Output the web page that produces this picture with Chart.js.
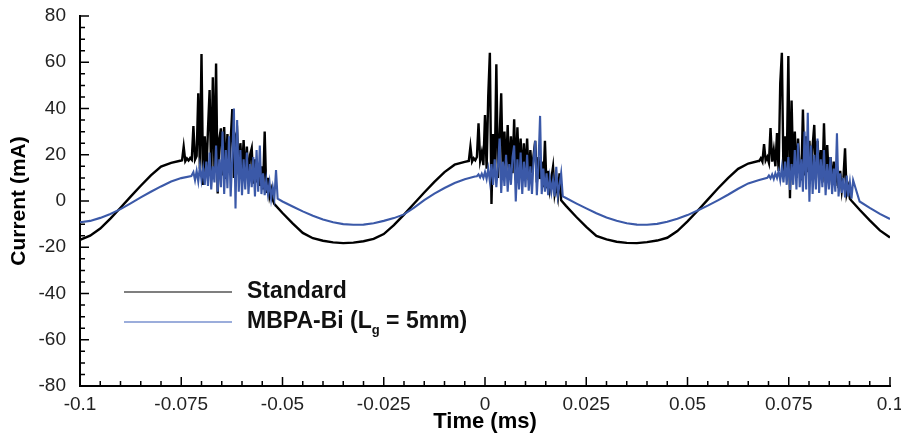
<!DOCTYPE html>
<html>
<head>
<meta charset="utf-8">
<script src="https://cdn.jsdelivr.net/npm/chart.js@4.4.1/dist/chart.umd.min.js"></script>
<style>
  html, body { margin: 0; padding: 0; background: #fff; }
  #wrap { width: 901px; height: 434px; position: relative; }
</style>
</head>
<body>
<div id="wrap"><canvas id="chart"></canvas></div>
<script>
// time axis (ms) and tick labels
const xTickValues = [-0.1, -0.075, -0.05, -0.025, 0, 0.025, 0.05, 0.075, 0.1];
const xTickLabels = ["-0.1", "-0.075", "-0.05", "-0.025", "0", "0.025", "0.05", "0.075", "0.1"];
const yTickValues = [-80, -60, -40, -20, 0, 20, 40, 60, 80];
const yTickLabels = ["-80", "-60", "-40", "-20", "0", "20", "40", "60", "80"];

// smooth part, sampled every 0.0025 ms from -0.1 ms
const baseStart = -0.1;
const baseStep = 0.0025;
const stdCurrent = [
  -16.8, -15.0, -11.9, -7.6, -2.9, 1.9, 6.6, 11.1, 14.9, 16.5,
  17.5, 18.1, 18.2, 17.9, 17.1, 15.9, 13.2, 9.0, 4.4, -0.4,
  -5.2, -9.7, -13.8, -16.1, -17.2, -17.9, -18.2, -18.0, -17.4, -16.4,
  -14.3, -10.4, -5.9, -1.1, 3.7, 8.3, 12.5, 15.7, 16.9, 17.8,
  18.2, 18.1, 17.6, 16.7, 15.4, 11.7, 7.4, 2.7, -2.1, -6.8,
  -11.2, -15.1, -16.6, -17.6, -18.1, -18.2, -17.8, -17.1, -15.9, -13.0,
  -8.8, -4.2, 0.6, 5.4, 9.9, 13.9, 16.2, 17.3, 17.9, 18.2,
  18.0, 17.4, 16.3, 14.2, 10.2, 5.7, 1.0, -3.8, -8.4, -12.7,
  -15.8
];
const mbpaCurrent = [
  -9.2, -8.6, -7.3, -5.6, -3.5, -1.0, 1.6, 4.0, 6.3, 8.4,
  9.9, 10.8, 11.1, 11.0, 10.6, 9.7, 8.3, 6.6, 4.5, 2.2,
  -0.2, -2.4, -4.5, -6.4, -8.0, -9.2, -10.0, -10.3, -10.2, -9.6,
  -8.6, -7.4, -5.8, -2.9, 0.4, 3.2, 5.6, 7.8, 9.4, 10.6,
  11.0, 11.1, 10.9, 10.3, 9.3, 7.7, 5.9, 3.7, 1.3, -1.0,
  -3.2, -5.3, -7.1, -8.5, -9.6, -10.2, -10.3, -9.9, -9.0, -7.7,
  -6.1, -4.1, -2.0, 0.3, 2.7, 5.3, 7.6, 9.0, 10.2, 10.9,
  11.1, 11.0, 10.0, 8.8, 7.1, 5.0, 2.6, -0.2, -3.0, -5.6,
  -7.8
];

// discharge bursts, sampled every 0.0004 ms
const burstStep = 0.0004;
const stdBurstStarts = [-0.0748, -0.0040, 0.0677];
const stdBurst1 = [
  17.6, 23.5, 17.2, 18.4, 17.5, 18.6, 17.8, 32.4, 17.9, 19.5,
  46.6, 14.0, 63.6, 6.9, 28.0, 12.0, 31.0, 48.0, 10.5, 53.5,
  14.0, 59.5, 3.3, 27.0, 31.4, 11.0, 32.0, 9.5, 29.0, 13.0,
  26.0, 39.8, 10.0, 28.0, 30.0, 11.5, 25.0, 12.0, 26.4, 10.0,
  23.5, 9.0, 20.0, 22.8, 7.5, 18.0, 8.0, 16.0, 6.5, 15.0,
  5.0, 30.0, 3.5, 10.0, 2.0, 5.0, 0.5, -1.3
];
const stdBurst2 = [
  17.3, 23.5, 17.0, 18.5, 17.6, 19.0, 33.6, 17.5, 21.0, 15.5,
  37.2, 14.0, 45.4, 64.1, -1.3, 29.0, 12.0, 59.1, 10.0, 27.0,
  46.6, 11.0, 30.0, 13.0, 32.9, 10.5, 28.0, 12.0, 35.3, 9.0,
  31.9, 13.0, 27.0, 10.0, 25.0, 11.5, 27.0, 9.0, 22.0, 12.0,
  20.0, 26.0, 8.0, 19.0, 9.5, 17.0, 6.0, 26.0, 5.5, 13.0,
  5.0, 10.0, 14.8, 3.0, 7.0, 2.0, 12.0, 0.3
];
const stdBurst3 = [
  17.3, 18.5, 17.0, 24.6, 17.5, 19.0, 16.5, 31.5, 17.0, 22.0,
  15.0, 29.4, 13.0, 50.9, 64.1, 11.0, 28.0, 14.0, 62.7, 1.2,
  43.4, 12.0, 30.0, 10.0, 27.0, 13.0, 9.0, 39.6, 11.0, 28.0,
  12.5, 26.0, 9.0, 24.0, 32.9, 10.0, 26.0, 12.0, 22.0, 8.0,
  33.6, 9.0, 24.2, 8.5, 19.0, 7.0, 17.0, 6.5, 15.0, 5.5,
  13.0, 4.5, 10.0, 22.8, 3.0, 6.0, 1.0, 0.1
];
const mbpaBurstStarts = [-0.0724, -0.0020, 0.0697];
const mbpaBurst1 = [
  10.8, 12.5, 9.0, 13.0, 8.5, 15.0, 9.0, 14.0, 7.0, 17.0,
  6.5, 21.0, 5.0, 15.0, 8.0, 24.0, 4.0, 18.0, 6.0, 30.0,
  3.0, 22.0, 5.5, 28.0, 2.0, 19.0, 40.0, -3.2, 35.0, 4.0,
  22.0, 2.5, 18.0, 5.0, 21.0, 3.0, 16.0, 6.0, 19.0, 2.0,
  22.0, 4.0, 24.0, 3.0, 12.0, 2.5, 9.0, 3.0, 8.0, 1.0,
  6.0, 1.5, 13.4, 1.0
];
const mbpaBurst2 = [
  10.7, 11.5, 10.2, 11.8, 10.0, 12.5, 9.5, 14.0, 8.5, 16.0,
  7.0, 18.0, 6.0, 15.0, 27.0, 3.5, 17.0, 6.5, 20.0, 4.0,
  16.0, 7.0, 19.0, 24.0, -0.2, 18.0, 5.0, 21.0, 3.0, 17.0,
  6.0, 20.0, 4.5, 15.0, 3.0, 18.0, 26.0, 2.5, 16.0, 36.8,
  3.0, 14.0, 4.0, 12.0, 2.5, 10.0, 4.0, 9.0, 2.0, 14.8,
  2.5, 7.0, 12.0, 2.0
];
const mbpaBurst3 = [
  10.0, 11.0, 9.8, 11.5, 9.5, 12.0, 10.0, 13.0, 9.0, 14.5,
  8.0, 17.0, 7.0, 19.0, 4.8, 16.0, 7.0, 22.0, 5.0, 25.0,
  6.0, 18.0, 4.0, 30.0, 5.0, 38.2, -0.3, 24.0, 3.0, 20.0,
  5.0, 27.0, 3.5, 18.0, 6.0, 22.0, 2.5, 16.0, 5.0, 19.0,
  3.0, 14.0, 4.0, 29.3, 2.0, 12.0, 3.5, 10.0, 1.5, 11.0,
  2.0, 8.0, 1.0, 9.0
];

const legendLabels = ["Standard", "MBPA-Bi (L", "g", " = 5mm)"];

const FONT = '"Liberation Sans", Arial, Helvetica, sans-serif';

function buildSeries(base, starts, bursts) {
  const pts = [];
  const ranges = bursts.map((b, j) => [starts[j], starts[j] + (b.length - 1) * burstStep]);
  base.forEach((v, i) => {
    const t = baseStart + i * baseStep;
    if (ranges.some(r => t >= r[0] - 1e-9 && t <= r[1] + 1e-9)) return;
    pts.push({ x: t, y: v });
  });
  bursts.forEach((b, j) => {
    b.forEach((v, i) => pts.push({ x: starts[j] + i * burstStep, y: v }));
  });
  pts.sort((a, b) => a.x - b.x);
  return pts;
}

const stdData = buildSeries(stdCurrent, stdBurstStarts, [stdBurst1, stdBurst2, stdBurst3]);
const mbpaData = buildSeries(mbpaCurrent, mbpaBurstStarts, [mbpaBurst1, mbpaBurst2, mbpaBurst3]);

// small inward ticks like the original plot
const minorTicks = {
  id: "minorTicks",
  afterDatasetsDraw(chart) {
    const { ctx, chartArea: a, scales: { x, y } } = chart;
    ctx.save();
    ctx.strokeStyle = "#000";
    ctx.lineWidth = 1.5;
    ctx.beginPath();
    for (let i = 0; i <= 40; i++) {
      const px = x.getPixelForValue(-0.1 + i * 0.005);
      const len = i % 5 === 0 ? 9 : 5;
      ctx.moveTo(px, a.bottom);
      ctx.lineTo(px, a.bottom - len);
    }
    for (let i = 0; i <= 32; i++) {
      const py = y.getPixelForValue(-80 + i * 5);
      const len = i % 4 === 0 ? 9 : 5;
      ctx.moveTo(a.left, py);
      ctx.lineTo(a.left + len, py);
    }
    ctx.stroke();
    ctx.restore();
  }
};

// legend drawn inside the plot, lower left
const innerLegend = {
  id: "innerLegend",
  afterDraw(chart) {
    const { ctx, chartArea: a } = chart;
    const x0 = a.left + 44, x1 = a.left + 152, tx = a.left + 167;
    const y0 = a.top + 276, y1 = a.top + 306;
    ctx.save();
    ctx.lineWidth = 1.5;
    ctx.strokeStyle = "#555";
    ctx.beginPath(); ctx.moveTo(x0, y0); ctx.lineTo(x1, y0); ctx.stroke();
    ctx.strokeStyle = "#7a92cf";
    ctx.beginPath(); ctx.moveTo(x0, y1); ctx.lineTo(x1, y1); ctx.stroke();
    ctx.fillStyle = "#111";
    ctx.textBaseline = "middle";
    ctx.font = "bold 23px " + FONT;
    ctx.fillText(legendLabels[0], tx, y0);
    ctx.fillText(legendLabels[1], tx, y1);
    let cx = tx + ctx.measureText(legendLabels[1]).width;
    ctx.font = "bold 13px " + FONT;
    ctx.fillText(legendLabels[2], cx, y1 + 8);
    cx += ctx.measureText(legendLabels[2]).width;
    ctx.font = "bold 23px " + FONT;
    ctx.fillText(legendLabels[3], cx, y1);
    ctx.restore();
  }
};

new Chart(document.getElementById("chart"), {
  type: "line",
  data: {
    datasets: [
      {
        label: "Standard",
        data: stdData,
        borderColor: "#000",
        borderWidth: 2.4,
        order: 2
      },
      {
        label: "MBPA-Bi (Lg = 5mm)",
        data: mbpaData,
        borderColor: "#3b59a8",
        borderWidth: 2.1,
        order: 1
      }
    ]
  },
  options: {
    responsive: true,
    maintainAspectRatio: false,
    animation: false,
    layout: { padding: { top: 16, right: 11, left: 0, bottom: 0 } },
    elements: { point: { radius: 0 }, line: { tension: 0 } },
    plugins: { legend: { display: false }, tooltip: { enabled: false } },
    scales: {
      x: {
        type: "linear",
        min: -0.1,
        max: 0.1,
        afterBuildTicks: (s) => { s.ticks = xTickValues.map(v => ({ value: v })); },
        afterFit: (s) => { s.height = 48; s.paddingLeft = 0; s.paddingRight = 0; },
        ticks: {
          autoSkip: false,
          maxRotation: 0,
          padding: 7,
          color: "#222",
          font: { family: FONT, size: 19 },
          callback: (v, i) => xTickLabels[i]
        },
        grid: { display: false, drawTicks: false },
        border: { color: "#000", width: 2 },
        title: {
          display: true,
          text: "Time (ms)",
          color: "#000",
          font: { family: FONT, size: 22, weight: "bold" },
          padding: { top: 0, bottom: -1 }
        }
      },
      y: {
        type: "linear",
        min: -80,
        max: 80,
        afterBuildTicks: (s) => { s.ticks = yTickValues.map(v => ({ value: v })); },
        afterFit: (s) => { s.width = 80; s.paddingTop = 0; s.paddingBottom = 0; },
        ticks: {
          autoSkip: false,
          padding: 14,
          color: "#222",
          font: { family: FONT, size: 19 },
          callback: (v, i) => yTickLabels[i]
        },
        grid: { display: false, drawTicks: false },
        border: { color: "#000", width: 2 },
        title: {
          display: true,
          text: "Current (mA)",
          color: "#000",
          font: { family: FONT, size: 21, weight: "bold" },
          padding: { top: 7, bottom: 0 }
        }
      }
    }
  },
  plugins: [minorTicks, innerLegend]
});
</script>
</body>
</html>
